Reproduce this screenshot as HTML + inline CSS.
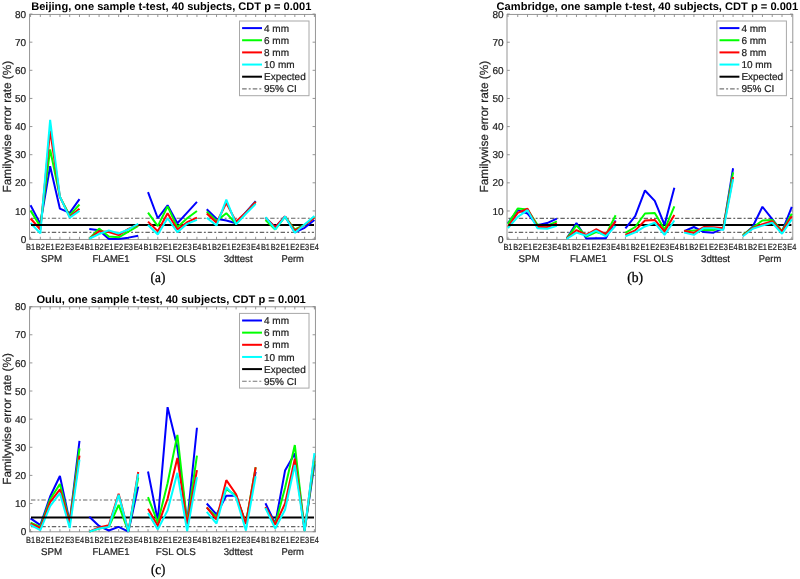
<!DOCTYPE html>
<html><head><meta charset="utf-8"><style>
html,body{margin:0;padding:0;background:#fff;}
svg{display:block;will-change:transform;font-family:"Liberation Sans",sans-serif;}
text{text-rendering:geometricPrecision;}
.t{fill:#1e1e1e;stroke:#1e1e1e;stroke-width:0.22px;}
</style></head><body>
<svg width="800" height="579" viewBox="0 0 800 579">
<rect width="800" height="579" fill="#fff"/>
<rect x="29.60" y="14.40" width="285.80" height="225.00" fill="none" stroke="#8a8a8a" stroke-width="0.9"/>
<path d="M30.55,239.40v-2.6M30.55,14.40v2.6M40.34,239.40v-2.6M40.34,14.40v2.6M50.13,239.40v-2.6M50.13,14.40v2.6M59.91,239.40v-2.6M59.91,14.40v2.6M69.70,239.40v-2.6M69.70,14.40v2.6M79.49,239.40v-2.6M79.49,14.40v2.6M89.28,239.40v-2.6M89.28,14.40v2.6M99.07,239.40v-2.6M99.07,14.40v2.6M108.85,239.40v-2.6M108.85,14.40v2.6M118.64,239.40v-2.6M118.64,14.40v2.6M128.43,239.40v-2.6M128.43,14.40v2.6M138.22,239.40v-2.6M138.22,14.40v2.6M148.01,239.40v-2.6M148.01,14.40v2.6M157.79,239.40v-2.6M157.79,14.40v2.6M167.58,239.40v-2.6M167.58,14.40v2.6M177.37,239.40v-2.6M177.37,14.40v2.6M187.16,239.40v-2.6M187.16,14.40v2.6M196.95,239.40v-2.6M196.95,14.40v2.6M206.73,239.40v-2.6M206.73,14.40v2.6M216.52,239.40v-2.6M216.52,14.40v2.6M226.31,239.40v-2.6M226.31,14.40v2.6M236.10,239.40v-2.6M236.10,14.40v2.6M245.89,239.40v-2.6M245.89,14.40v2.6M255.67,239.40v-2.6M255.67,14.40v2.6M265.46,239.40v-2.6M265.46,14.40v2.6M275.25,239.40v-2.6M275.25,14.40v2.6M285.04,239.40v-2.6M285.04,14.40v2.6M294.83,239.40v-2.6M294.83,14.40v2.6M304.61,239.40v-2.6M304.61,14.40v2.6M314.40,239.40v-2.6M314.40,14.40v2.6M29.60,239.05h2.8M315.40,239.05h-2.8M29.60,210.93h2.8M315.40,210.93h-2.8M29.60,182.80h2.8M315.40,182.80h-2.8M29.60,154.68h2.8M315.40,154.68h-2.8M29.60,126.55h2.8M315.40,126.55h-2.8M29.60,98.43h2.8M315.40,98.43h-2.8M29.60,70.30h2.8M315.40,70.30h-2.8M29.60,42.18h2.8M315.40,42.18h-2.8M29.60,14.05h2.8M315.40,14.05h-2.8" stroke="#8a8a8a" stroke-width="0.9" fill="none"/>
<line x1="31.00" x2="314.00" y1="232.38" y2="232.38" stroke="#666" stroke-width="1.2" stroke-dasharray="4.4,2.1,1.9,2.0"/>
<line x1="31.00" x2="314.00" y1="218.27" y2="218.27" stroke="#666" stroke-width="1.2" stroke-dasharray="4.4,2.1,1.9,2.0"/>
<polyline points="30.55,205.30 40.34,223.86 50.13,166.21 59.91,208.68 69.70,212.89 79.49,199.11" fill="none" stroke="#0000ff" stroke-width="2" stroke-linejoin="bevel"/>
<polyline points="30.55,210.64 40.34,226.39 50.13,149.47 59.91,196.86 69.70,215.43 79.49,204.46" fill="none" stroke="#00ff00" stroke-width="2" stroke-linejoin="bevel"/>
<polyline points="30.55,218.52 40.34,229.49 50.13,130.63 59.91,196.86 69.70,216.83 79.49,208.68" fill="none" stroke="#ff0000" stroke-width="2" stroke-linejoin="bevel"/>
<polyline points="30.55,223.02 40.34,233.43 50.13,119.80 59.91,196.58 69.70,217.68 79.49,210.93" fill="none" stroke="#00ffff" stroke-width="2" stroke-linejoin="bevel"/>
<line x1="31.00" x2="314.00" y1="224.99" y2="224.99" stroke="#000" stroke-width="2"/>
<polyline points="89.28,228.93 99.07,230.33 108.85,239.05 118.64,239.05 128.43,237.64 138.22,235.68" fill="none" stroke="#0000ff" stroke-width="2" stroke-linejoin="bevel"/>
<polyline points="89.28,238.77 99.07,228.64 108.85,236.52 118.64,237.36 128.43,231.74 138.22,225.83" fill="none" stroke="#00ff00" stroke-width="2" stroke-linejoin="bevel"/>
<polyline points="89.28,238.77 99.07,231.18 108.85,232.02 118.64,235.11 128.43,228.93 138.22,224.71" fill="none" stroke="#ff0000" stroke-width="2" stroke-linejoin="bevel"/>
<polyline points="89.28,238.77 99.07,233.99 108.85,230.33 118.64,233.43 128.43,229.49 138.22,223.86" fill="none" stroke="#00ffff" stroke-width="2" stroke-linejoin="bevel"/>
<polyline points="148.01,192.08 157.79,218.24 167.58,205.30 177.37,223.30 187.16,212.61 196.95,201.93" fill="none" stroke="#0000ff" stroke-width="2" stroke-linejoin="bevel"/>
<polyline points="148.01,212.61 157.79,226.11 167.58,206.43 177.37,227.24 187.16,218.24 196.95,210.93" fill="none" stroke="#00ff00" stroke-width="2" stroke-linejoin="bevel"/>
<polyline points="148.01,221.61 157.79,231.18 167.58,213.18 177.37,229.49 187.16,222.18 196.95,217.68" fill="none" stroke="#ff0000" stroke-width="2" stroke-linejoin="bevel"/>
<polyline points="148.01,224.99 157.79,234.55 167.58,218.24 177.37,232.30 187.16,223.86 196.95,219.93" fill="none" stroke="#00ffff" stroke-width="2" stroke-linejoin="bevel"/>
<polyline points="206.73,209.24 216.52,218.80 226.31,220.49 236.10,223.30 245.89,212.05 255.67,201.08" fill="none" stroke="#0000ff" stroke-width="2" stroke-linejoin="bevel"/>
<polyline points="206.73,211.49 216.52,221.05 226.31,213.18 236.10,223.86 245.89,212.89 255.67,201.93" fill="none" stroke="#00ff00" stroke-width="2" stroke-linejoin="bevel"/>
<polyline points="206.73,213.46 216.52,222.74 226.31,203.05 236.10,221.61 245.89,212.61 255.67,201.93" fill="none" stroke="#ff0000" stroke-width="2" stroke-linejoin="bevel"/>
<polyline points="206.73,217.68 216.52,225.55 226.31,199.68 236.10,224.43 245.89,213.74 255.67,203.89" fill="none" stroke="#00ffff" stroke-width="2" stroke-linejoin="bevel"/>
<polyline points="265.46,217.68 275.25,227.24 285.04,216.55 294.83,232.30 304.61,227.80 314.40,219.93" fill="none" stroke="#0000ff" stroke-width="2" stroke-linejoin="bevel"/>
<polyline points="265.46,219.93 275.25,229.49 285.04,216.55 294.83,229.49 304.61,224.99 314.40,217.11" fill="none" stroke="#00ff00" stroke-width="2" stroke-linejoin="bevel"/>
<polyline points="265.46,217.68 275.25,227.24 285.04,216.55 294.83,230.61 304.61,224.99 314.40,217.68" fill="none" stroke="#ff0000" stroke-width="2" stroke-linejoin="bevel"/>
<polyline points="265.46,217.11 275.25,229.49 285.04,216.55 294.83,232.86 304.61,224.43 314.40,215.99" fill="none" stroke="#00ffff" stroke-width="2" stroke-linejoin="bevel"/>
<text x="26.20" y="242.65" text-anchor="end" font-size="10" class="t">0</text>
<text x="26.20" y="214.53" text-anchor="end" font-size="10" class="t">10</text>
<text x="26.20" y="186.40" text-anchor="end" font-size="10" class="t">20</text>
<text x="26.20" y="158.28" text-anchor="end" font-size="10" class="t">30</text>
<text x="26.20" y="130.15" text-anchor="end" font-size="10" class="t">40</text>
<text x="26.20" y="102.03" text-anchor="end" font-size="10" class="t">50</text>
<text x="26.20" y="73.90" text-anchor="end" font-size="10" class="t">60</text>
<text x="26.20" y="45.78" text-anchor="end" font-size="10" class="t">70</text>
<text x="26.20" y="17.65" text-anchor="end" font-size="10" class="t">80</text>
<text x="30.55" y="249.90" text-anchor="middle" font-size="8.9" class="t" textLength="9.1" lengthAdjust="spacingAndGlyphs">B1</text>
<text x="40.34" y="249.90" text-anchor="middle" font-size="8.9" class="t" textLength="9.1" lengthAdjust="spacingAndGlyphs">B2</text>
<text x="50.13" y="249.90" text-anchor="middle" font-size="8.9" class="t" textLength="9.1" lengthAdjust="spacingAndGlyphs">E1</text>
<text x="59.91" y="249.90" text-anchor="middle" font-size="8.9" class="t" textLength="9.1" lengthAdjust="spacingAndGlyphs">E2</text>
<text x="69.70" y="249.90" text-anchor="middle" font-size="8.9" class="t" textLength="9.1" lengthAdjust="spacingAndGlyphs">E3</text>
<text x="79.49" y="249.90" text-anchor="middle" font-size="8.9" class="t" textLength="9.1" lengthAdjust="spacingAndGlyphs">E4</text>
<text x="89.28" y="249.90" text-anchor="middle" font-size="8.9" class="t" textLength="9.1" lengthAdjust="spacingAndGlyphs">B1</text>
<text x="99.07" y="249.90" text-anchor="middle" font-size="8.9" class="t" textLength="9.1" lengthAdjust="spacingAndGlyphs">B2</text>
<text x="108.85" y="249.90" text-anchor="middle" font-size="8.9" class="t" textLength="9.1" lengthAdjust="spacingAndGlyphs">E1</text>
<text x="118.64" y="249.90" text-anchor="middle" font-size="8.9" class="t" textLength="9.1" lengthAdjust="spacingAndGlyphs">E2</text>
<text x="128.43" y="249.90" text-anchor="middle" font-size="8.9" class="t" textLength="9.1" lengthAdjust="spacingAndGlyphs">E3</text>
<text x="138.22" y="249.90" text-anchor="middle" font-size="8.9" class="t" textLength="9.1" lengthAdjust="spacingAndGlyphs">E4</text>
<text x="148.01" y="249.90" text-anchor="middle" font-size="8.9" class="t" textLength="9.1" lengthAdjust="spacingAndGlyphs">B1</text>
<text x="157.79" y="249.90" text-anchor="middle" font-size="8.9" class="t" textLength="9.1" lengthAdjust="spacingAndGlyphs">B2</text>
<text x="167.58" y="249.90" text-anchor="middle" font-size="8.9" class="t" textLength="9.1" lengthAdjust="spacingAndGlyphs">E1</text>
<text x="177.37" y="249.90" text-anchor="middle" font-size="8.9" class="t" textLength="9.1" lengthAdjust="spacingAndGlyphs">E2</text>
<text x="187.16" y="249.90" text-anchor="middle" font-size="8.9" class="t" textLength="9.1" lengthAdjust="spacingAndGlyphs">E3</text>
<text x="196.95" y="249.90" text-anchor="middle" font-size="8.9" class="t" textLength="9.1" lengthAdjust="spacingAndGlyphs">E4</text>
<text x="206.73" y="249.90" text-anchor="middle" font-size="8.9" class="t" textLength="9.1" lengthAdjust="spacingAndGlyphs">B1</text>
<text x="216.52" y="249.90" text-anchor="middle" font-size="8.9" class="t" textLength="9.1" lengthAdjust="spacingAndGlyphs">B2</text>
<text x="226.31" y="249.90" text-anchor="middle" font-size="8.9" class="t" textLength="9.1" lengthAdjust="spacingAndGlyphs">E1</text>
<text x="236.10" y="249.90" text-anchor="middle" font-size="8.9" class="t" textLength="9.1" lengthAdjust="spacingAndGlyphs">E2</text>
<text x="245.89" y="249.90" text-anchor="middle" font-size="8.9" class="t" textLength="9.1" lengthAdjust="spacingAndGlyphs">E3</text>
<text x="255.67" y="249.90" text-anchor="middle" font-size="8.9" class="t" textLength="9.1" lengthAdjust="spacingAndGlyphs">E4</text>
<text x="265.46" y="249.90" text-anchor="middle" font-size="8.9" class="t" textLength="9.1" lengthAdjust="spacingAndGlyphs">B1</text>
<text x="275.25" y="249.90" text-anchor="middle" font-size="8.9" class="t" textLength="9.1" lengthAdjust="spacingAndGlyphs">B2</text>
<text x="285.04" y="249.90" text-anchor="middle" font-size="8.9" class="t" textLength="9.1" lengthAdjust="spacingAndGlyphs">E1</text>
<text x="294.83" y="249.90" text-anchor="middle" font-size="8.9" class="t" textLength="9.1" lengthAdjust="spacingAndGlyphs">E2</text>
<text x="304.61" y="249.90" text-anchor="middle" font-size="8.9" class="t" textLength="9.1" lengthAdjust="spacingAndGlyphs">E3</text>
<text x="314.40" y="249.90" text-anchor="middle" font-size="8.9" class="t" textLength="9.1" lengthAdjust="spacingAndGlyphs">E4</text>
<text x="41.10" y="262.30" font-size="9.8" class="t" textLength="21.15" lengthAdjust="spacingAndGlyphs">SPM</text>
<text x="92.50" y="262.30" font-size="9.8" class="t" textLength="37.00" lengthAdjust="spacingAndGlyphs">FLAME1</text>
<text x="155.80" y="262.30" font-size="9.8" class="t" textLength="40.00" lengthAdjust="spacingAndGlyphs">FSL OLS</text>
<text x="223.70" y="262.30" font-size="9.8" class="t" textLength="28.90" lengthAdjust="spacingAndGlyphs">3dttest</text>
<text x="281.40" y="262.30" font-size="9.8" class="t" textLength="22.50" lengthAdjust="spacingAndGlyphs">Perm</text>
<text transform="translate(10.80,192.40) rotate(-90)" x="0" y="0" font-size="11.73" class="t" textLength="131.60" lengthAdjust="spacingAndGlyphs">Familywise error rate (%)</text>
<text x="31.20" y="9.75" font-size="11" font-weight="bold" fill="#000" textLength="280.20" lengthAdjust="spacingAndGlyphs">Beijing, one sample t-test, 40 subjects, CDT p = 0.001</text>
<rect x="239.50" y="21.00" width="69.50" height="74.70" fill="#fff" stroke="#a8a8a8" stroke-width="1"/>
<line x1="242.10" x2="262.00" y1="28.10" y2="28.10" stroke="#0000ff" stroke-width="2"/>
<text x="264.00" y="31.70" font-size="10" class="t">4 mm</text>
<line x1="242.10" x2="262.00" y1="40.25" y2="40.25" stroke="#00ff00" stroke-width="2"/>
<text x="264.00" y="43.85" font-size="10" class="t">6 mm</text>
<line x1="242.10" x2="262.00" y1="52.40" y2="52.40" stroke="#ff0000" stroke-width="2"/>
<text x="264.00" y="56.00" font-size="10" class="t">8 mm</text>
<line x1="242.10" x2="262.00" y1="64.55" y2="64.55" stroke="#00ffff" stroke-width="2"/>
<text x="264.00" y="68.15" font-size="10" class="t">10 mm</text>
<line x1="242.10" x2="262.00" y1="76.70" y2="76.70" stroke="#000" stroke-width="2"/>
<text x="264.00" y="80.30" font-size="10" class="t">Expected</text>
<line x1="242.10" x2="262.00" y1="88.85" y2="88.85" stroke="#777" stroke-width="1.1" stroke-dasharray="4.6,2.0,2.0,2.0"/>
<text x="264.00" y="92.45" font-size="10" class="t">95% CI</text>
<text x="150.60" y="282.30" font-family="Liberation Serif" font-size="14.5" fill="#000" stroke="#000" stroke-width="0.3" textLength="14.70" lengthAdjust="spacingAndGlyphs">(a)</text>
<rect x="507.00" y="14.40" width="285.80" height="225.00" fill="none" stroke="#8a8a8a" stroke-width="0.9"/>
<path d="M507.95,239.40v-2.6M507.95,14.40v2.6M517.74,239.40v-2.6M517.74,14.40v2.6M527.53,239.40v-2.6M527.53,14.40v2.6M537.31,239.40v-2.6M537.31,14.40v2.6M547.10,239.40v-2.6M547.10,14.40v2.6M556.89,239.40v-2.6M556.89,14.40v2.6M566.68,239.40v-2.6M566.68,14.40v2.6M576.47,239.40v-2.6M576.47,14.40v2.6M586.25,239.40v-2.6M586.25,14.40v2.6M596.04,239.40v-2.6M596.04,14.40v2.6M605.83,239.40v-2.6M605.83,14.40v2.6M615.62,239.40v-2.6M615.62,14.40v2.6M625.41,239.40v-2.6M625.41,14.40v2.6M635.19,239.40v-2.6M635.19,14.40v2.6M644.98,239.40v-2.6M644.98,14.40v2.6M654.77,239.40v-2.6M654.77,14.40v2.6M664.56,239.40v-2.6M664.56,14.40v2.6M674.35,239.40v-2.6M674.35,14.40v2.6M684.13,239.40v-2.6M684.13,14.40v2.6M693.92,239.40v-2.6M693.92,14.40v2.6M703.71,239.40v-2.6M703.71,14.40v2.6M713.50,239.40v-2.6M713.50,14.40v2.6M723.29,239.40v-2.6M723.29,14.40v2.6M733.07,239.40v-2.6M733.07,14.40v2.6M742.86,239.40v-2.6M742.86,14.40v2.6M752.65,239.40v-2.6M752.65,14.40v2.6M762.44,239.40v-2.6M762.44,14.40v2.6M772.23,239.40v-2.6M772.23,14.40v2.6M782.01,239.40v-2.6M782.01,14.40v2.6M791.80,239.40v-2.6M791.80,14.40v2.6M507.00,239.10h2.8M792.80,239.10h-2.8M507.00,210.97h2.8M792.80,210.97h-2.8M507.00,182.85h2.8M792.80,182.85h-2.8M507.00,154.72h2.8M792.80,154.72h-2.8M507.00,126.60h2.8M792.80,126.60h-2.8M507.00,98.47h2.8M792.80,98.47h-2.8M507.00,70.35h2.8M792.80,70.35h-2.8M507.00,42.22h2.8M792.80,42.22h-2.8M507.00,14.10h2.8M792.80,14.10h-2.8" stroke="#8a8a8a" stroke-width="0.9" fill="none"/>
<line x1="508.40" x2="791.40" y1="232.43" y2="232.43" stroke="#666" stroke-width="1.2" stroke-dasharray="4.4,2.1,1.9,2.0"/>
<line x1="508.40" x2="791.40" y1="218.32" y2="218.32" stroke="#666" stroke-width="1.2" stroke-dasharray="4.4,2.1,1.9,2.0"/>
<polyline points="507.95,223.07 517.74,210.13 527.53,213.51 537.31,225.32 547.10,223.07 556.89,218.57" fill="none" stroke="#0000ff" stroke-width="2" stroke-linejoin="bevel"/>
<polyline points="507.95,223.91 517.74,208.44 527.53,209.57 537.31,224.47 547.10,225.88 556.89,221.38" fill="none" stroke="#00ff00" stroke-width="2" stroke-linejoin="bevel"/>
<polyline points="507.95,226.72 517.74,212.94 527.53,208.72 537.31,226.72 547.10,227.29 556.89,223.35" fill="none" stroke="#ff0000" stroke-width="2" stroke-linejoin="bevel"/>
<polyline points="507.95,228.13 517.74,216.88 527.53,210.13 537.31,228.13 547.10,228.69 556.89,225.88" fill="none" stroke="#00ffff" stroke-width="2" stroke-linejoin="bevel"/>
<line x1="508.40" x2="791.40" y1="225.04" y2="225.04" stroke="#000" stroke-width="2"/>
<polyline points="566.68,238.54 576.47,223.07 586.25,238.54 596.04,238.26 605.83,238.26 615.62,220.54" fill="none" stroke="#0000ff" stroke-width="2" stroke-linejoin="bevel"/>
<polyline points="566.68,238.54 576.47,225.32 586.25,236.57 596.04,232.07 605.83,234.88 615.62,215.19" fill="none" stroke="#00ff00" stroke-width="2" stroke-linejoin="bevel"/>
<polyline points="566.68,238.54 576.47,230.10 586.25,234.88 596.04,229.26 605.83,234.04 615.62,221.38" fill="none" stroke="#ff0000" stroke-width="2" stroke-linejoin="bevel"/>
<polyline points="566.68,238.82 576.47,232.63 586.25,235.72 596.04,230.66 605.83,236.29 615.62,225.88" fill="none" stroke="#00ffff" stroke-width="2" stroke-linejoin="bevel"/>
<polyline points="625.41,228.41 635.19,216.04 644.98,190.44 654.77,200.85 664.56,224.76 674.35,187.63" fill="none" stroke="#0000ff" stroke-width="2" stroke-linejoin="bevel"/>
<polyline points="625.41,232.91 635.19,227.01 644.98,213.51 654.77,212.94 664.56,229.54 674.35,206.47" fill="none" stroke="#00ff00" stroke-width="2" stroke-linejoin="bevel"/>
<polyline points="625.41,234.88 635.19,230.38 644.98,220.54 654.77,219.97 664.56,231.51 674.35,214.91" fill="none" stroke="#ff0000" stroke-width="2" stroke-linejoin="bevel"/>
<polyline points="625.41,236.29 635.19,232.35 644.98,226.44 654.77,222.79 664.56,234.88 674.35,220.54" fill="none" stroke="#00ffff" stroke-width="2" stroke-linejoin="bevel"/>
<polyline points="684.13,231.22 693.92,227.01 703.71,232.07 713.50,232.63 723.29,228.41 733.07,168.22" fill="none" stroke="#0000ff" stroke-width="2" stroke-linejoin="bevel"/>
<polyline points="684.13,231.51 693.92,230.38 703.71,229.82 713.50,230.10 723.29,227.85 733.07,172.44" fill="none" stroke="#00ff00" stroke-width="2" stroke-linejoin="bevel"/>
<polyline points="684.13,230.66 693.92,232.91 703.71,227.01 713.50,227.29 723.29,228.13 733.07,176.94" fill="none" stroke="#ff0000" stroke-width="2" stroke-linejoin="bevel"/>
<polyline points="684.13,232.63 693.92,234.88 703.71,228.13 713.50,228.13 723.29,230.10 733.07,179.19" fill="none" stroke="#00ffff" stroke-width="2" stroke-linejoin="bevel"/>
<polyline points="742.86,235.72 752.65,226.72 762.44,206.76 772.23,219.13 782.01,231.51 791.80,206.76" fill="none" stroke="#0000ff" stroke-width="2" stroke-linejoin="bevel"/>
<polyline points="742.86,235.16 752.65,227.57 762.44,220.54 772.23,219.97 782.01,230.94 791.80,213.79" fill="none" stroke="#00ff00" stroke-width="2" stroke-linejoin="bevel"/>
<polyline points="742.86,235.72 752.65,228.13 762.44,224.19 772.23,221.10 782.01,231.51 791.80,216.32" fill="none" stroke="#ff0000" stroke-width="2" stroke-linejoin="bevel"/>
<polyline points="742.86,236.29 752.65,228.69 762.44,225.60 772.23,222.79 782.01,233.76 791.80,219.41" fill="none" stroke="#00ffff" stroke-width="2" stroke-linejoin="bevel"/>
<text x="503.60" y="242.70" text-anchor="end" font-size="10" class="t">0</text>
<text x="503.60" y="214.57" text-anchor="end" font-size="10" class="t">10</text>
<text x="503.60" y="186.45" text-anchor="end" font-size="10" class="t">20</text>
<text x="503.60" y="158.32" text-anchor="end" font-size="10" class="t">30</text>
<text x="503.60" y="130.20" text-anchor="end" font-size="10" class="t">40</text>
<text x="503.60" y="102.07" text-anchor="end" font-size="10" class="t">50</text>
<text x="503.60" y="73.95" text-anchor="end" font-size="10" class="t">60</text>
<text x="503.60" y="45.82" text-anchor="end" font-size="10" class="t">70</text>
<text x="503.60" y="17.70" text-anchor="end" font-size="10" class="t">80</text>
<text x="507.95" y="249.90" text-anchor="middle" font-size="8.9" class="t" textLength="9.1" lengthAdjust="spacingAndGlyphs">B1</text>
<text x="517.74" y="249.90" text-anchor="middle" font-size="8.9" class="t" textLength="9.1" lengthAdjust="spacingAndGlyphs">B2</text>
<text x="527.53" y="249.90" text-anchor="middle" font-size="8.9" class="t" textLength="9.1" lengthAdjust="spacingAndGlyphs">E1</text>
<text x="537.31" y="249.90" text-anchor="middle" font-size="8.9" class="t" textLength="9.1" lengthAdjust="spacingAndGlyphs">E2</text>
<text x="547.10" y="249.90" text-anchor="middle" font-size="8.9" class="t" textLength="9.1" lengthAdjust="spacingAndGlyphs">E3</text>
<text x="556.89" y="249.90" text-anchor="middle" font-size="8.9" class="t" textLength="9.1" lengthAdjust="spacingAndGlyphs">E4</text>
<text x="566.68" y="249.90" text-anchor="middle" font-size="8.9" class="t" textLength="9.1" lengthAdjust="spacingAndGlyphs">B1</text>
<text x="576.47" y="249.90" text-anchor="middle" font-size="8.9" class="t" textLength="9.1" lengthAdjust="spacingAndGlyphs">B2</text>
<text x="586.25" y="249.90" text-anchor="middle" font-size="8.9" class="t" textLength="9.1" lengthAdjust="spacingAndGlyphs">E1</text>
<text x="596.04" y="249.90" text-anchor="middle" font-size="8.9" class="t" textLength="9.1" lengthAdjust="spacingAndGlyphs">E2</text>
<text x="605.83" y="249.90" text-anchor="middle" font-size="8.9" class="t" textLength="9.1" lengthAdjust="spacingAndGlyphs">E3</text>
<text x="615.62" y="249.90" text-anchor="middle" font-size="8.9" class="t" textLength="9.1" lengthAdjust="spacingAndGlyphs">E4</text>
<text x="625.41" y="249.90" text-anchor="middle" font-size="8.9" class="t" textLength="9.1" lengthAdjust="spacingAndGlyphs">B1</text>
<text x="635.19" y="249.90" text-anchor="middle" font-size="8.9" class="t" textLength="9.1" lengthAdjust="spacingAndGlyphs">B2</text>
<text x="644.98" y="249.90" text-anchor="middle" font-size="8.9" class="t" textLength="9.1" lengthAdjust="spacingAndGlyphs">E1</text>
<text x="654.77" y="249.90" text-anchor="middle" font-size="8.9" class="t" textLength="9.1" lengthAdjust="spacingAndGlyphs">E2</text>
<text x="664.56" y="249.90" text-anchor="middle" font-size="8.9" class="t" textLength="9.1" lengthAdjust="spacingAndGlyphs">E3</text>
<text x="674.35" y="249.90" text-anchor="middle" font-size="8.9" class="t" textLength="9.1" lengthAdjust="spacingAndGlyphs">E4</text>
<text x="684.13" y="249.90" text-anchor="middle" font-size="8.9" class="t" textLength="9.1" lengthAdjust="spacingAndGlyphs">B1</text>
<text x="693.92" y="249.90" text-anchor="middle" font-size="8.9" class="t" textLength="9.1" lengthAdjust="spacingAndGlyphs">B2</text>
<text x="703.71" y="249.90" text-anchor="middle" font-size="8.9" class="t" textLength="9.1" lengthAdjust="spacingAndGlyphs">E1</text>
<text x="713.50" y="249.90" text-anchor="middle" font-size="8.9" class="t" textLength="9.1" lengthAdjust="spacingAndGlyphs">E2</text>
<text x="723.29" y="249.90" text-anchor="middle" font-size="8.9" class="t" textLength="9.1" lengthAdjust="spacingAndGlyphs">E3</text>
<text x="733.07" y="249.90" text-anchor="middle" font-size="8.9" class="t" textLength="9.1" lengthAdjust="spacingAndGlyphs">E4</text>
<text x="742.86" y="249.90" text-anchor="middle" font-size="8.9" class="t" textLength="9.1" lengthAdjust="spacingAndGlyphs">B1</text>
<text x="752.65" y="249.90" text-anchor="middle" font-size="8.9" class="t" textLength="9.1" lengthAdjust="spacingAndGlyphs">B2</text>
<text x="762.44" y="249.90" text-anchor="middle" font-size="8.9" class="t" textLength="9.1" lengthAdjust="spacingAndGlyphs">E1</text>
<text x="772.23" y="249.90" text-anchor="middle" font-size="8.9" class="t" textLength="9.1" lengthAdjust="spacingAndGlyphs">E2</text>
<text x="782.01" y="249.90" text-anchor="middle" font-size="8.9" class="t" textLength="9.1" lengthAdjust="spacingAndGlyphs">E3</text>
<text x="791.80" y="249.90" text-anchor="middle" font-size="8.9" class="t" textLength="9.1" lengthAdjust="spacingAndGlyphs">E4</text>
<text x="518.50" y="262.30" font-size="9.8" class="t" textLength="21.15" lengthAdjust="spacingAndGlyphs">SPM</text>
<text x="569.90" y="262.30" font-size="9.8" class="t" textLength="37.00" lengthAdjust="spacingAndGlyphs">FLAME1</text>
<text x="633.20" y="262.30" font-size="9.8" class="t" textLength="40.00" lengthAdjust="spacingAndGlyphs">FSL OLS</text>
<text x="701.10" y="262.30" font-size="9.8" class="t" textLength="28.90" lengthAdjust="spacingAndGlyphs">3dttest</text>
<text x="758.80" y="262.30" font-size="9.8" class="t" textLength="22.50" lengthAdjust="spacingAndGlyphs">Perm</text>
<text transform="translate(488.20,192.40) rotate(-90)" x="0" y="0" font-size="11.73" class="t" textLength="131.60" lengthAdjust="spacingAndGlyphs">Familywise error rate (%)</text>
<text x="496.60" y="9.75" font-size="11" font-weight="bold" fill="#000" textLength="301.60" lengthAdjust="spacingAndGlyphs">Cambridge, one sample t-test, 40 subjects, CDT p = 0.001</text>
<rect x="716.90" y="21.00" width="69.50" height="74.70" fill="#fff" stroke="#a8a8a8" stroke-width="1"/>
<line x1="719.50" x2="739.40" y1="28.10" y2="28.10" stroke="#0000ff" stroke-width="2"/>
<text x="741.40" y="31.70" font-size="10" class="t">4 mm</text>
<line x1="719.50" x2="739.40" y1="40.25" y2="40.25" stroke="#00ff00" stroke-width="2"/>
<text x="741.40" y="43.85" font-size="10" class="t">6 mm</text>
<line x1="719.50" x2="739.40" y1="52.40" y2="52.40" stroke="#ff0000" stroke-width="2"/>
<text x="741.40" y="56.00" font-size="10" class="t">8 mm</text>
<line x1="719.50" x2="739.40" y1="64.55" y2="64.55" stroke="#00ffff" stroke-width="2"/>
<text x="741.40" y="68.15" font-size="10" class="t">10 mm</text>
<line x1="719.50" x2="739.40" y1="76.70" y2="76.70" stroke="#000" stroke-width="2"/>
<text x="741.40" y="80.30" font-size="10" class="t">Expected</text>
<line x1="719.50" x2="739.40" y1="88.85" y2="88.85" stroke="#777" stroke-width="1.1" stroke-dasharray="4.6,2.0,2.0,2.0"/>
<text x="741.40" y="92.45" font-size="10" class="t">95% CI</text>
<text x="627.20" y="282.30" font-family="Liberation Serif" font-size="14.5" fill="#000" stroke="#000" stroke-width="0.3" textLength="15.90" lengthAdjust="spacingAndGlyphs">(b)</text>
<rect x="29.60" y="306.80" width="285.80" height="225.00" fill="none" stroke="#8a8a8a" stroke-width="0.9"/>
<path d="M30.55,531.80v-2.6M30.55,306.80v2.6M40.34,531.80v-2.6M40.34,306.80v2.6M50.13,531.80v-2.6M50.13,306.80v2.6M59.91,531.80v-2.6M59.91,306.80v2.6M69.70,531.80v-2.6M69.70,306.80v2.6M79.49,531.80v-2.6M79.49,306.80v2.6M89.28,531.80v-2.6M89.28,306.80v2.6M99.07,531.80v-2.6M99.07,306.80v2.6M108.85,531.80v-2.6M108.85,306.80v2.6M118.64,531.80v-2.6M118.64,306.80v2.6M128.43,531.80v-2.6M128.43,306.80v2.6M138.22,531.80v-2.6M138.22,306.80v2.6M148.01,531.80v-2.6M148.01,306.80v2.6M157.79,531.80v-2.6M157.79,306.80v2.6M167.58,531.80v-2.6M167.58,306.80v2.6M177.37,531.80v-2.6M177.37,306.80v2.6M187.16,531.80v-2.6M187.16,306.80v2.6M196.95,531.80v-2.6M196.95,306.80v2.6M206.73,531.80v-2.6M206.73,306.80v2.6M216.52,531.80v-2.6M216.52,306.80v2.6M226.31,531.80v-2.6M226.31,306.80v2.6M236.10,531.80v-2.6M236.10,306.80v2.6M245.89,531.80v-2.6M245.89,306.80v2.6M255.67,531.80v-2.6M255.67,306.80v2.6M265.46,531.80v-2.6M265.46,306.80v2.6M275.25,531.80v-2.6M275.25,306.80v2.6M285.04,531.80v-2.6M285.04,306.80v2.6M294.83,531.80v-2.6M294.83,306.80v2.6M304.61,531.80v-2.6M304.61,306.80v2.6M314.40,531.80v-2.6M314.40,306.80v2.6M29.60,531.65h2.8M315.40,531.65h-2.8M29.60,503.52h2.8M315.40,503.52h-2.8M29.60,475.40h2.8M315.40,475.40h-2.8M29.60,447.27h2.8M315.40,447.27h-2.8M29.60,419.15h2.8M315.40,419.15h-2.8M29.60,391.02h2.8M315.40,391.02h-2.8M29.60,362.90h2.8M315.40,362.90h-2.8M29.60,334.77h2.8M315.40,334.77h-2.8M29.60,306.65h2.8M315.40,306.65h-2.8" stroke="#8a8a8a" stroke-width="0.9" fill="none"/>
<line x1="31.00" x2="314.00" y1="526.59" y2="526.59" stroke="#666" stroke-width="1.2" stroke-dasharray="4.4,2.1,1.9,2.0"/>
<line x1="31.00" x2="314.00" y1="500.01" y2="500.01" stroke="#666" stroke-width="1.2" stroke-dasharray="4.4,2.1,1.9,2.0"/>
<polyline points="30.55,518.43 40.34,525.18 50.13,496.49 59.91,475.96 69.70,521.81 79.49,440.81" fill="none" stroke="#0000ff" stroke-width="2" stroke-linejoin="bevel"/>
<polyline points="30.55,522.65 40.34,526.87 50.13,499.31 59.91,484.12 69.70,522.37 79.49,448.40" fill="none" stroke="#00ff00" stroke-width="2" stroke-linejoin="bevel"/>
<polyline points="30.55,523.77 40.34,527.99 50.13,502.12 59.91,489.46 69.70,522.93 79.49,455.71" fill="none" stroke="#ff0000" stroke-width="2" stroke-linejoin="bevel"/>
<polyline points="30.55,524.90 40.34,530.24 50.13,506.06 59.91,493.12 69.70,527.99 79.49,459.65" fill="none" stroke="#00ffff" stroke-width="2" stroke-linejoin="bevel"/>
<line x1="31.00" x2="314.00" y1="517.59" y2="517.59" stroke="#000" stroke-width="2"/>
<polyline points="89.28,516.74 99.07,526.02 108.85,530.52 118.64,526.87 128.43,531.65 138.22,486.65" fill="none" stroke="#0000ff" stroke-width="2" stroke-linejoin="bevel"/>
<polyline points="89.28,531.65 99.07,528.56 108.85,526.87 118.64,504.93 128.43,531.65 138.22,477.65" fill="none" stroke="#00ff00" stroke-width="2" stroke-linejoin="bevel"/>
<polyline points="89.28,531.65 99.07,527.43 108.85,525.18 118.64,493.68 128.43,531.65 138.22,472.02" fill="none" stroke="#ff0000" stroke-width="2" stroke-linejoin="bevel"/>
<polyline points="89.28,531.65 99.07,528.56 108.85,526.87 118.64,494.81 128.43,531.65 138.22,473.71" fill="none" stroke="#00ffff" stroke-width="2" stroke-linejoin="bevel"/>
<polyline points="148.01,471.46 157.79,520.68 167.58,407.20 177.37,447.27 187.16,522.37 196.95,427.73" fill="none" stroke="#0000ff" stroke-width="2" stroke-linejoin="bevel"/>
<polyline points="148.01,497.06 157.79,522.65 167.58,483.27 177.37,434.90 187.16,523.21 196.95,455.71" fill="none" stroke="#00ff00" stroke-width="2" stroke-linejoin="bevel"/>
<polyline points="148.01,508.87 157.79,525.74 167.58,498.74 177.37,457.96 187.16,524.34 196.95,470.06" fill="none" stroke="#ff0000" stroke-width="2" stroke-linejoin="bevel"/>
<polyline points="148.01,513.09 157.79,529.40 167.58,510.56 177.37,472.87 187.16,531.09 196.95,477.09" fill="none" stroke="#00ffff" stroke-width="2" stroke-linejoin="bevel"/>
<polyline points="206.73,503.52 216.52,514.49 226.31,495.65 236.10,495.65 245.89,523.49 255.67,471.74" fill="none" stroke="#0000ff" stroke-width="2" stroke-linejoin="bevel"/>
<polyline points="206.73,507.46 216.52,517.02 226.31,489.18 236.10,495.65 245.89,523.21 255.67,467.24" fill="none" stroke="#00ff00" stroke-width="2" stroke-linejoin="bevel"/>
<polyline points="206.73,507.46 216.52,519.56 226.31,480.18 236.10,494.24 245.89,524.06 255.67,467.24" fill="none" stroke="#ff0000" stroke-width="2" stroke-linejoin="bevel"/>
<polyline points="206.73,511.96 216.52,523.49 226.31,487.21 236.10,497.62 245.89,530.52 255.67,476.24" fill="none" stroke="#00ffff" stroke-width="2" stroke-linejoin="bevel"/>
<polyline points="265.46,503.24 275.25,523.77 285.04,470.62 294.83,453.46 304.61,530.24 314.40,464.43" fill="none" stroke="#0000ff" stroke-width="2" stroke-linejoin="bevel"/>
<polyline points="265.46,507.46 275.25,524.34 285.04,488.06 294.83,445.02 304.61,530.52 314.40,460.77" fill="none" stroke="#00ff00" stroke-width="2" stroke-linejoin="bevel"/>
<polyline points="265.46,506.90 275.25,524.62 285.04,503.52 294.83,458.81 304.61,530.52 314.40,455.71" fill="none" stroke="#ff0000" stroke-width="2" stroke-linejoin="bevel"/>
<polyline points="265.46,508.02 275.25,528.56 285.04,509.71 294.83,464.99 304.61,531.09 314.40,453.18" fill="none" stroke="#00ffff" stroke-width="2" stroke-linejoin="bevel"/>
<text x="26.20" y="535.25" text-anchor="end" font-size="10" class="t">0</text>
<text x="26.20" y="507.12" text-anchor="end" font-size="10" class="t">10</text>
<text x="26.20" y="479.00" text-anchor="end" font-size="10" class="t">20</text>
<text x="26.20" y="450.88" text-anchor="end" font-size="10" class="t">30</text>
<text x="26.20" y="422.75" text-anchor="end" font-size="10" class="t">40</text>
<text x="26.20" y="394.62" text-anchor="end" font-size="10" class="t">50</text>
<text x="26.20" y="366.50" text-anchor="end" font-size="10" class="t">60</text>
<text x="26.20" y="338.38" text-anchor="end" font-size="10" class="t">70</text>
<text x="26.20" y="310.25" text-anchor="end" font-size="10" class="t">80</text>
<text x="30.55" y="542.50" text-anchor="middle" font-size="8.9" class="t" textLength="9.1" lengthAdjust="spacingAndGlyphs">B1</text>
<text x="40.34" y="542.50" text-anchor="middle" font-size="8.9" class="t" textLength="9.1" lengthAdjust="spacingAndGlyphs">B2</text>
<text x="50.13" y="542.50" text-anchor="middle" font-size="8.9" class="t" textLength="9.1" lengthAdjust="spacingAndGlyphs">E1</text>
<text x="59.91" y="542.50" text-anchor="middle" font-size="8.9" class="t" textLength="9.1" lengthAdjust="spacingAndGlyphs">E2</text>
<text x="69.70" y="542.50" text-anchor="middle" font-size="8.9" class="t" textLength="9.1" lengthAdjust="spacingAndGlyphs">E3</text>
<text x="79.49" y="542.50" text-anchor="middle" font-size="8.9" class="t" textLength="9.1" lengthAdjust="spacingAndGlyphs">E4</text>
<text x="89.28" y="542.50" text-anchor="middle" font-size="8.9" class="t" textLength="9.1" lengthAdjust="spacingAndGlyphs">B1</text>
<text x="99.07" y="542.50" text-anchor="middle" font-size="8.9" class="t" textLength="9.1" lengthAdjust="spacingAndGlyphs">B2</text>
<text x="108.85" y="542.50" text-anchor="middle" font-size="8.9" class="t" textLength="9.1" lengthAdjust="spacingAndGlyphs">E1</text>
<text x="118.64" y="542.50" text-anchor="middle" font-size="8.9" class="t" textLength="9.1" lengthAdjust="spacingAndGlyphs">E2</text>
<text x="128.43" y="542.50" text-anchor="middle" font-size="8.9" class="t" textLength="9.1" lengthAdjust="spacingAndGlyphs">E3</text>
<text x="138.22" y="542.50" text-anchor="middle" font-size="8.9" class="t" textLength="9.1" lengthAdjust="spacingAndGlyphs">E4</text>
<text x="148.01" y="542.50" text-anchor="middle" font-size="8.9" class="t" textLength="9.1" lengthAdjust="spacingAndGlyphs">B1</text>
<text x="157.79" y="542.50" text-anchor="middle" font-size="8.9" class="t" textLength="9.1" lengthAdjust="spacingAndGlyphs">B2</text>
<text x="167.58" y="542.50" text-anchor="middle" font-size="8.9" class="t" textLength="9.1" lengthAdjust="spacingAndGlyphs">E1</text>
<text x="177.37" y="542.50" text-anchor="middle" font-size="8.9" class="t" textLength="9.1" lengthAdjust="spacingAndGlyphs">E2</text>
<text x="187.16" y="542.50" text-anchor="middle" font-size="8.9" class="t" textLength="9.1" lengthAdjust="spacingAndGlyphs">E3</text>
<text x="196.95" y="542.50" text-anchor="middle" font-size="8.9" class="t" textLength="9.1" lengthAdjust="spacingAndGlyphs">E4</text>
<text x="206.73" y="542.50" text-anchor="middle" font-size="8.9" class="t" textLength="9.1" lengthAdjust="spacingAndGlyphs">B1</text>
<text x="216.52" y="542.50" text-anchor="middle" font-size="8.9" class="t" textLength="9.1" lengthAdjust="spacingAndGlyphs">B2</text>
<text x="226.31" y="542.50" text-anchor="middle" font-size="8.9" class="t" textLength="9.1" lengthAdjust="spacingAndGlyphs">E1</text>
<text x="236.10" y="542.50" text-anchor="middle" font-size="8.9" class="t" textLength="9.1" lengthAdjust="spacingAndGlyphs">E2</text>
<text x="245.89" y="542.50" text-anchor="middle" font-size="8.9" class="t" textLength="9.1" lengthAdjust="spacingAndGlyphs">E3</text>
<text x="255.67" y="542.50" text-anchor="middle" font-size="8.9" class="t" textLength="9.1" lengthAdjust="spacingAndGlyphs">E4</text>
<text x="265.46" y="542.50" text-anchor="middle" font-size="8.9" class="t" textLength="9.1" lengthAdjust="spacingAndGlyphs">B1</text>
<text x="275.25" y="542.50" text-anchor="middle" font-size="8.9" class="t" textLength="9.1" lengthAdjust="spacingAndGlyphs">B2</text>
<text x="285.04" y="542.50" text-anchor="middle" font-size="8.9" class="t" textLength="9.1" lengthAdjust="spacingAndGlyphs">E1</text>
<text x="294.83" y="542.50" text-anchor="middle" font-size="8.9" class="t" textLength="9.1" lengthAdjust="spacingAndGlyphs">E2</text>
<text x="304.61" y="542.50" text-anchor="middle" font-size="8.9" class="t" textLength="9.1" lengthAdjust="spacingAndGlyphs">E3</text>
<text x="314.40" y="542.50" text-anchor="middle" font-size="8.9" class="t" textLength="9.1" lengthAdjust="spacingAndGlyphs">E4</text>
<text x="41.10" y="554.80" font-size="9.8" class="t" textLength="21.15" lengthAdjust="spacingAndGlyphs">SPM</text>
<text x="92.50" y="554.80" font-size="9.8" class="t" textLength="37.00" lengthAdjust="spacingAndGlyphs">FLAME1</text>
<text x="155.80" y="554.80" font-size="9.8" class="t" textLength="40.00" lengthAdjust="spacingAndGlyphs">FSL OLS</text>
<text x="223.70" y="554.80" font-size="9.8" class="t" textLength="28.90" lengthAdjust="spacingAndGlyphs">3dttest</text>
<text x="281.40" y="554.80" font-size="9.8" class="t" textLength="22.50" lengthAdjust="spacingAndGlyphs">Perm</text>
<text transform="translate(10.80,484.80) rotate(-90)" x="0" y="0" font-size="11.73" class="t" textLength="131.60" lengthAdjust="spacingAndGlyphs">Familywise error rate (%)</text>
<text x="36.40" y="302.80" font-size="11" font-weight="bold" fill="#000" textLength="269.40" lengthAdjust="spacingAndGlyphs">Oulu, one sample t-test, 40 subjects, CDT p = 0.001</text>
<rect x="239.50" y="313.40" width="69.50" height="74.70" fill="#fff" stroke="#a8a8a8" stroke-width="1"/>
<line x1="242.10" x2="262.00" y1="320.50" y2="320.50" stroke="#0000ff" stroke-width="2"/>
<text x="264.00" y="324.10" font-size="10" class="t">4 mm</text>
<line x1="242.10" x2="262.00" y1="332.65" y2="332.65" stroke="#00ff00" stroke-width="2"/>
<text x="264.00" y="336.25" font-size="10" class="t">6 mm</text>
<line x1="242.10" x2="262.00" y1="344.80" y2="344.80" stroke="#ff0000" stroke-width="2"/>
<text x="264.00" y="348.40" font-size="10" class="t">8 mm</text>
<line x1="242.10" x2="262.00" y1="356.95" y2="356.95" stroke="#00ffff" stroke-width="2"/>
<text x="264.00" y="360.55" font-size="10" class="t">10 mm</text>
<line x1="242.10" x2="262.00" y1="369.10" y2="369.10" stroke="#000" stroke-width="2"/>
<text x="264.00" y="372.70" font-size="10" class="t">Expected</text>
<line x1="242.10" x2="262.00" y1="381.25" y2="381.25" stroke="#777" stroke-width="1.1" stroke-dasharray="4.6,2.0,2.0,2.0"/>
<text x="264.00" y="384.85" font-size="10" class="t">95% CI</text>
<text x="150.90" y="574.40" font-family="Liberation Serif" font-size="14.5" fill="#000" stroke="#000" stroke-width="0.3" textLength="14.40" lengthAdjust="spacingAndGlyphs">(c)</text>
</svg></body></html>
